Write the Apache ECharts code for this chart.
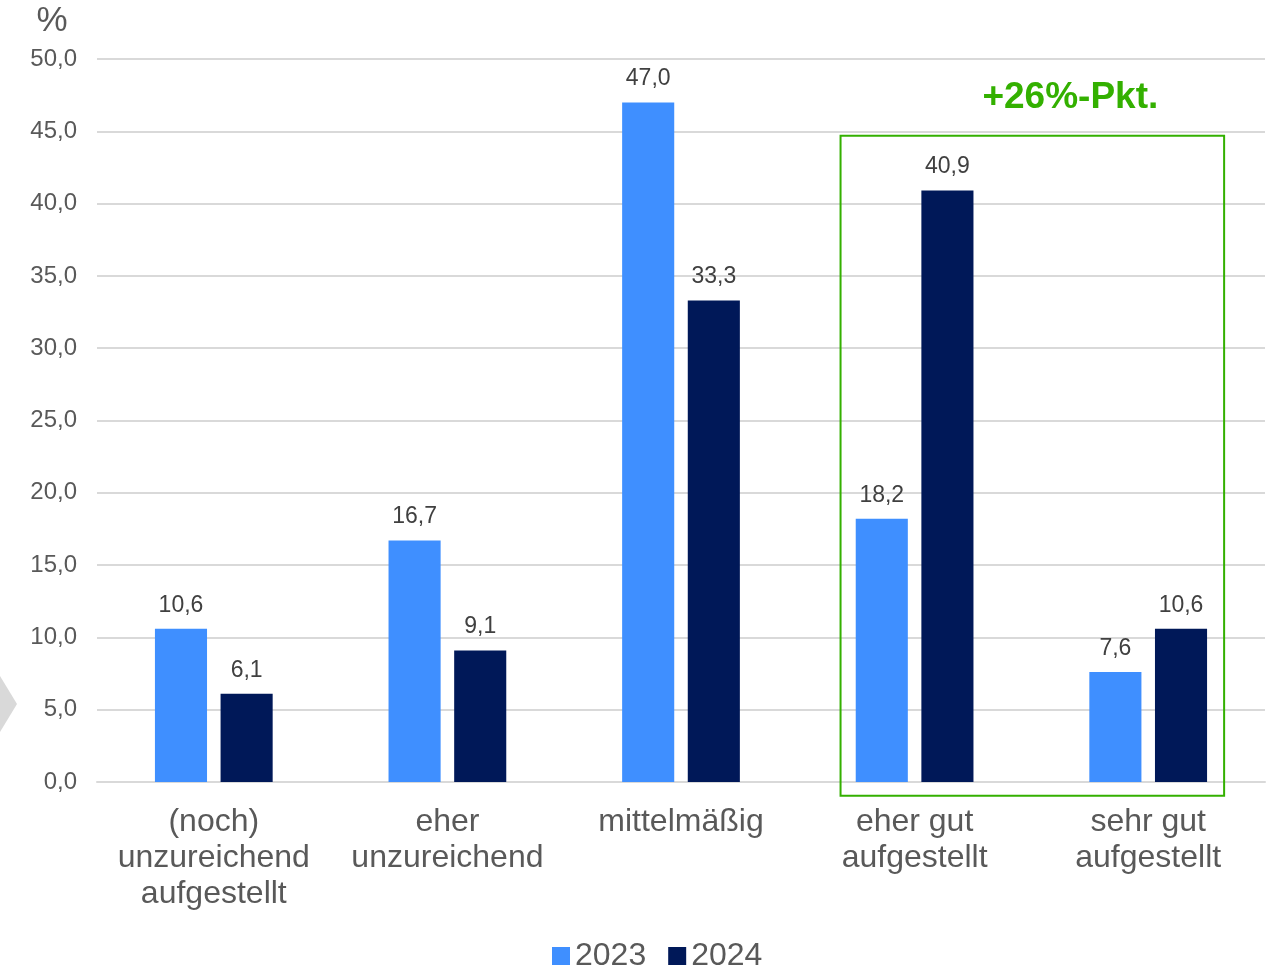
<!DOCTYPE html>
<html>
<head>
<meta charset="utf-8">
<script src="https://cdn.jsdelivr.net/npm/echarts@6/dist/echarts.min.js"></script>
<style>
  html, body { margin: 0; padding: 0; background: #fff; }
  #chart { width: 1269px; height: 973px; }
</style>
</head>
<body>
<div id="chart"></div>
<script>
// Einschätzung der eigenen Aufstellung, Anteile in Prozent
const categories = ['(noch)\nunzureichend\naufgestellt', 'eher\nunzureichend', 'mittelmäßig', 'eher gut\naufgestellt', 'sehr gut\naufgestellt'];
const values2023 = [10.6, 16.7, 47.0, 18.2, 7.6];
const values2024 = [6.1, 9.1, 33.3, 40.9, 10.6];
const seriesNames = ['2023', '2024'];
const unitLabel = '%';
const highlightText = '+26%-Pkt.';

const fmt = v => v.toFixed(1).replace('.', ',');
const font = 'Liberation Sans, Arial, sans-serif';

const chart = echarts.init(document.getElementById('chart'), null, { renderer: 'canvas' });

const labelStyle = {
  show: true, position: 'top', distance: 12,
  color: '#404040', fontSize: 23, fontFamily: font,
  formatter: p => fmt(p.value)
};

chart.setOption({
  animation: false,
  grid: { left: 97, right: 4, top: 59, bottom: 191, containLabel: false },
  legend: {
    top: 935, left: 547,
    itemWidth: 18, itemHeight: 18, itemGap: 22,
    icon: 'rect',
    textStyle: { color: '#595959', fontSize: 32, fontFamily: font, padding: [3, 0, 0, 0] },
    data: seriesNames
  },
  xAxis: {
    type: 'category', data: categories,
    axisLine: { lineStyle: { color: '#d9d9d9', width: 2 } },
    axisTick: { show: false },
    axisLabel: { interval: 0, hideOverlap: false, color: '#595959', fontSize: 32, fontFamily: font, lineHeight: 36, margin: 22 }
  },
  yAxis: {
    type: 'value', min: 0, max: 50, interval: 5,
    axisLine: { show: false }, axisTick: { show: false },
    splitLine: { lineStyle: { color: '#d9d9d9', width: 2 } },
    axisLabel: { color: '#595959', fontSize: 24, fontFamily: font, margin: 20, formatter: v => fmt(v) }
  },
  series: [
    { name: seriesNames[0], type: 'bar', data: values2023, barWidth: '22.3%', barGap: '26%',
      itemStyle: { color: '#3f8fff' }, label: labelStyle },
    { name: seriesNames[1], type: 'bar', data: values2024, barWidth: '22.3%',
      itemStyle: { color: '#001858' }, label: labelStyle }
  ]
});

// Rahmen um die beiden positiven Kategorien, aus den Achsen berechnet
const band = chart.convertToPixel({ xAxisIndex: 0 }, 1) - chart.convertToPixel({ xAxisIndex: 0 }, 0);
const xLeft = chart.convertToPixel({ xAxisIndex: 0 }, 3) - band * 0.317;
const xRight = chart.convertToPixel({ xAxisIndex: 0 }, 4) + band * 0.325;
const yTop = chart.convertToPixel({ yAxisIndex: 0 }, 44.7);
const yBottom = chart.convertToPixel({ yAxisIndex: 0 }, -0.95);

chart.setOption({
  graphic: [
    {
      type: 'text', z: 100, x: 52, y: 21,
      style: { text: unitLabel, fill: '#595959', font: '35px ' + font, align: 'center', verticalAlign: 'middle' }
    },
    {
      type: 'rect', z: 100,
      shape: { x: xLeft, y: yTop, width: xRight - xLeft, height: yBottom - yTop },
      style: { fill: 'none', stroke: '#33b000', lineWidth: 2 }
    },
    {
      type: 'text', z: 100,
      x: (xLeft + xRight) / 2 + 38, y: yTop - 38,
      style: { text: highlightText, fill: '#33b000', font: 'bold 37px ' + font, align: 'center', verticalAlign: 'middle' }
    },
    {
      type: 'polygon', z: 100,
      shape: { points: [[-4, 676], [0, 676], [17, 704], [0, 732], [-4, 732]] },
      style: { fill: '#d9d9d9' }
    }
  ]
});
</script>
</body>
</html>
